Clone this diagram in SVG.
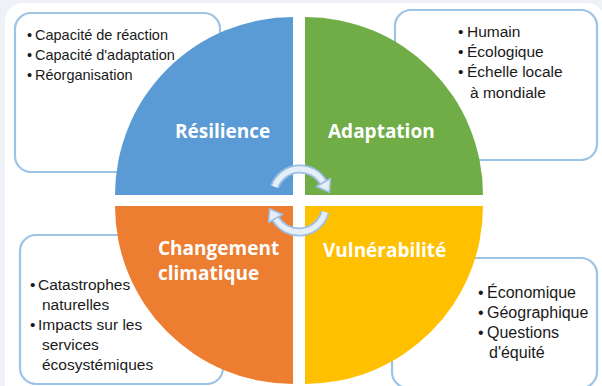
<svg xmlns="http://www.w3.org/2000/svg" width="602" height="386" viewBox="0 0 602 386">
<style>
.box{fill:#ffffff;stroke:#9dc3e6;stroke-width:2.2}
.t{font-family:"Liberation Sans",Arial,sans-serif;font-size:14.5px;fill:#1a1a1a}
.m{font-size:15.5px}
.l{font-size:16px}
.h{font-family:"Open Sans","Liberation Sans",Arial,sans-serif;font-weight:bold;font-size:19px;fill:#ffffff}
.arcO{fill:none;stroke:#9dbfe3;stroke-width:9}
.arcI{fill:none;stroke:#e6eef8;stroke-width:5.5}
.head{fill:#e6eef8;stroke:#9dbfe3;stroke-width:1.6;stroke-linejoin:round}
</style>
<rect x="0" y="0" width="602" height="386" fill="#eef2f6"/>
<rect x="5" y="3" width="600" height="400" rx="18" fill="#ffffff"/>

<g id="box-resilience">
<rect class="box" x="15" y="13" width="205" height="159" rx="16"/>
<text class="t" x="27" y="40">•</text><text class="t" x="35" y="40">Capacité de réaction</text>
<text class="t" x="27" y="60">•</text><text class="t" x="35" y="60">Capacité d'adaptation</text>
<text class="t" x="27" y="80">•</text><text class="t" x="35" y="80">Réorganisation</text>
</g>
<g id="box-adaptation">
<rect class="box" x="395" y="10" width="202" height="150" rx="16"/>
<text class="t m" x="458" y="37">•</text><text class="t m" x="467" y="37">Humain</text>
<text class="t m" x="458" y="57">•</text><text class="t m" x="467" y="57">Écologique</text>
<text class="t m" x="458" y="77">•</text><text class="t m" x="467" y="77">Échelle locale</text>
<text class="t m" x="470" y="98">à mondiale</text>
</g>
<g id="box-changement">
<rect class="box" x="20" y="235" width="203" height="149" rx="16"/>
<text class="t m" x="30" y="290">•</text><text class="t m" x="38" y="290">Catastrophes</text>
<text class="t m" x="42" y="310">naturelles</text>
<text class="t m" x="30" y="330">•</text><text class="t m" x="38" y="330">Impacts sur les</text>
<text class="t m" x="42" y="350">services</text>
<text class="t m" x="42" y="370">écosystémiques</text>
</g>
<g id="box-vulnerabilite">
<rect class="box" x="392" y="258" width="205" height="130" rx="16"/>
<text class="t l" x="478" y="298">•</text><text class="t l" x="487" y="298">Économique</text>
<text class="t l" x="478" y="318">•</text><text class="t l" x="487" y="318">Géographique</text>
<text class="t l" x="478" y="338">•</text><text class="t l" x="487" y="338">Questions</text>
<text class="t l" x="489" y="358">d'équité</text>
</g>

<g id="resilience">
<path d="M293,195 L115,195 A178,178 0 0 1 293,17 Z" fill="#5b9bd5"/>
<text class="h" x="175" y="138">Résilience</text>
</g>
<g id="adaptation">
<path d="M305,195 L305,17 A178,178 0 0 1 483,195 Z" fill="#70ad47"/>
<text class="h" x="328" y="138">Adaptation</text>
</g>
<g id="changement">
<path d="M293,206 L293,384 A178,178 0 0 1 115,206 Z" fill="#ed7d31"/>
<text class="h" x="158" y="255">Changement</text>
<text class="h" x="158" y="280">climatique</text>
</g>
<g id="vulnerabilite">
<path d="M305,206 L483,206 A178,178 0 0 1 305,384 Z" fill="#ffc000"/>
<text class="h" x="323" y="257">Vulnérabilité</text>
</g>

<g id="connectors">
<path class="arcO" d="M274.6,186.8 A27,27 0 0 1 323.4,182.5"/>
<path class="arcI" d="M274.6,186.8 A27,27 0 0 1 323.4,182.5"/>
<polygon class="head" points="330.4,178.5 316.4,186.5 329.4,192.2"/>
<path class="arcO" d="M325.1,212 A27,27 0 0 1 275.6,218.5"/>
<path class="arcI" d="M325.1,212 A27,27 0 0 1 275.6,218.5"/>
<polygon class="head" points="268.6,222.5 282.6,214.5 269.6,208.8"/>
</g>
</svg>
